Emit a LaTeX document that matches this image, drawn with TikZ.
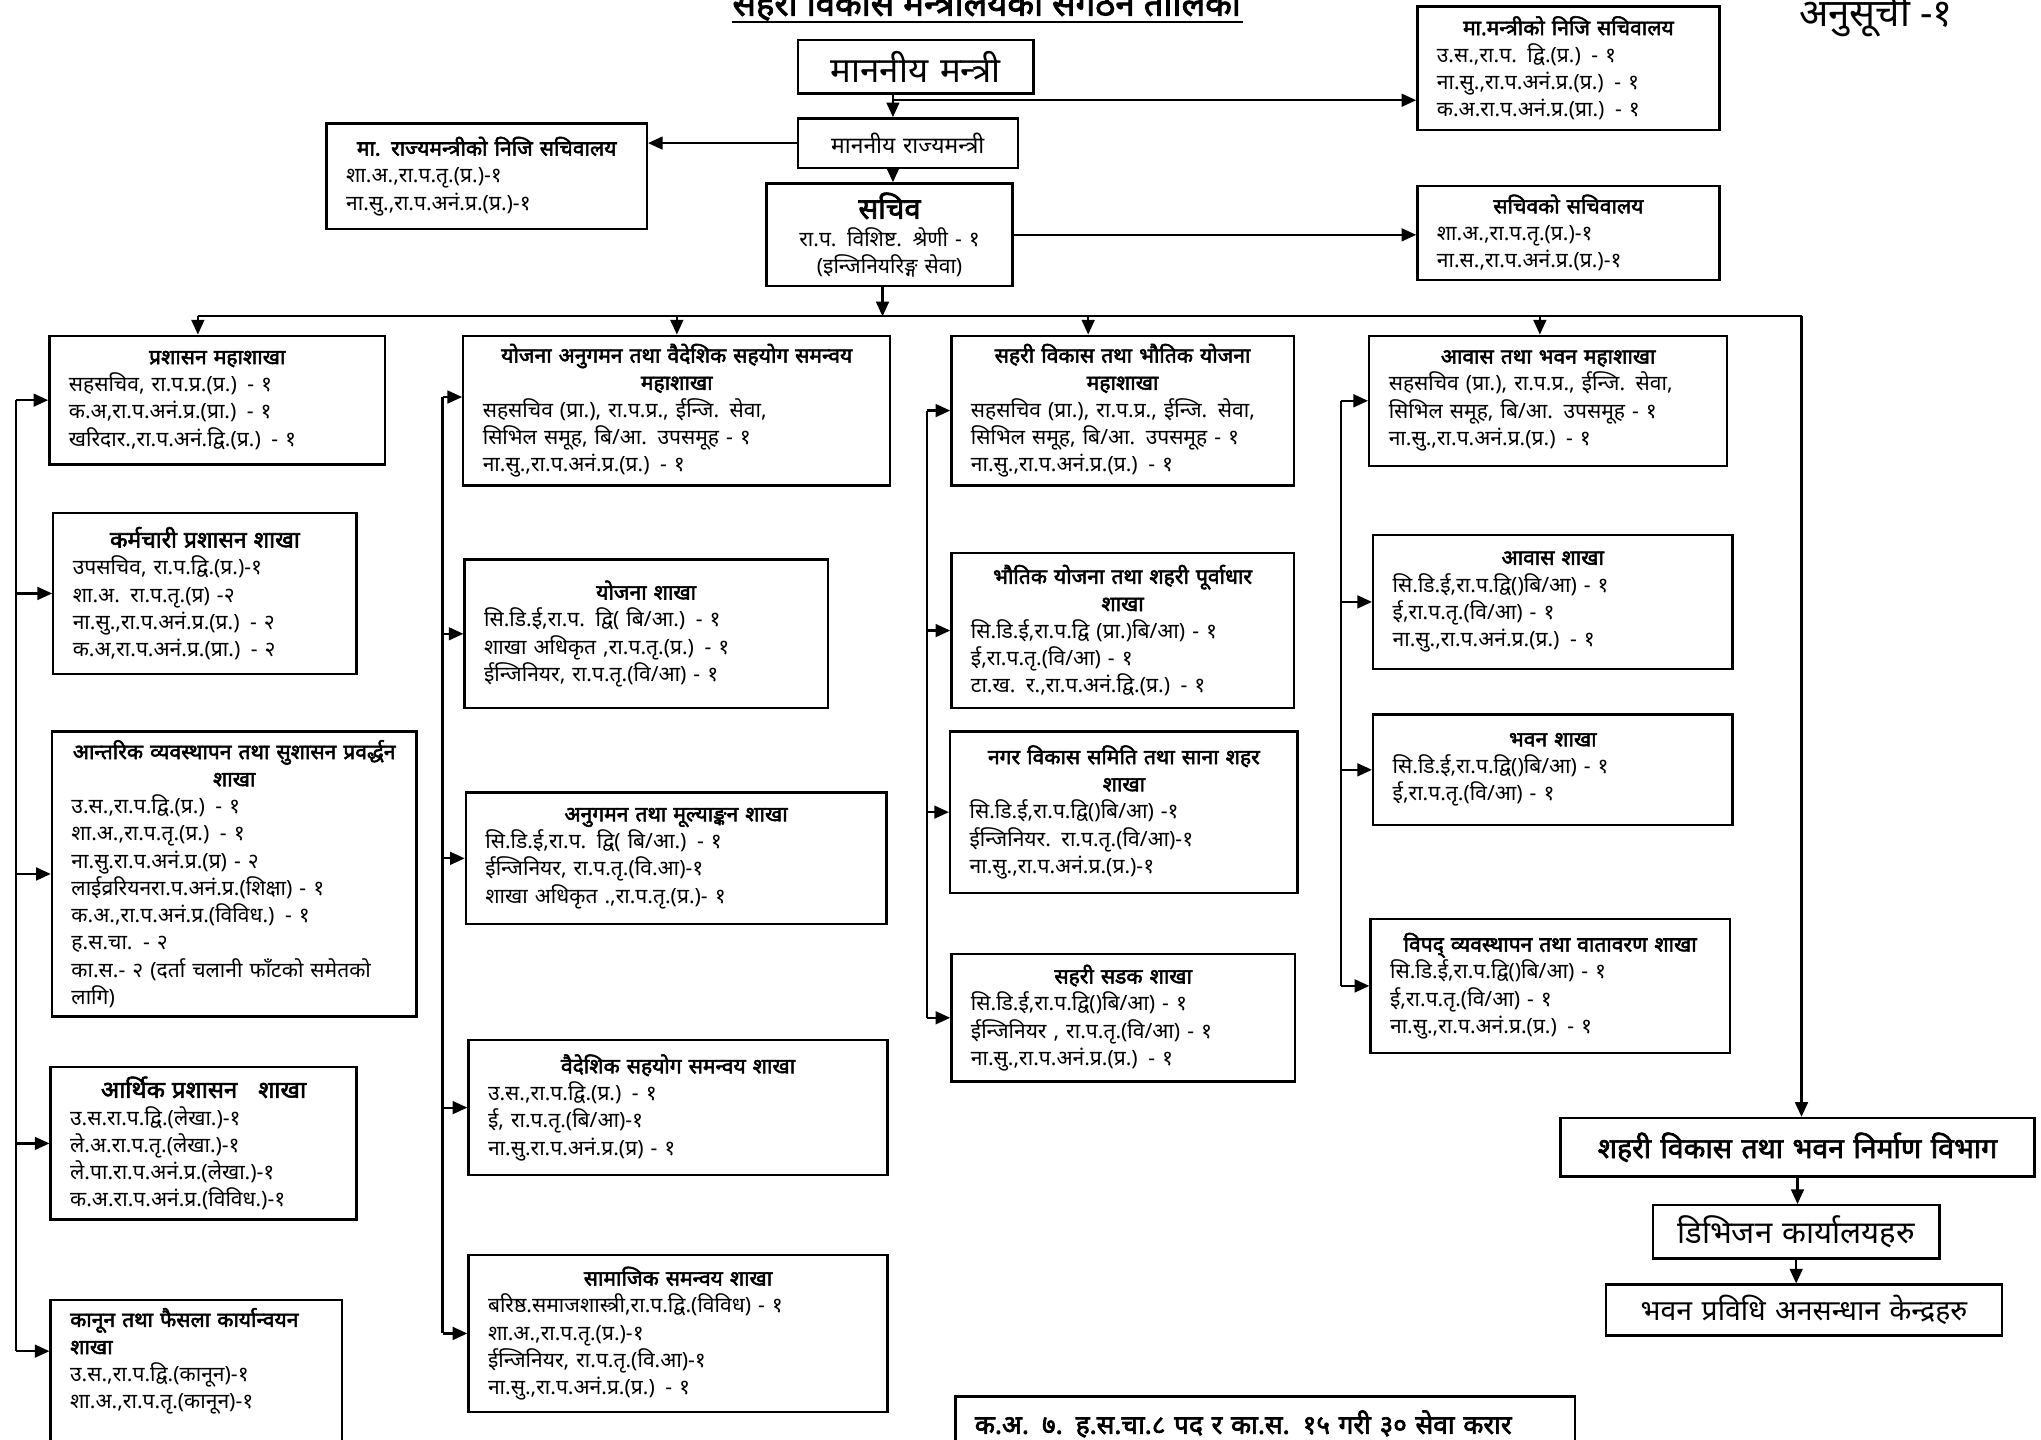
\documentclass[tikz,border=0pt]{standalone}
\usepackage{fontspec}
\setmainfont[Script=Devanagari, BoldFont={Noto Sans}, BoldFeatures={FakeBold=2.5}]{Noto Sans}
\usetikzlibrary{arrows.meta}

\tikzset{
  unit/.style={draw, line width=1.3pt, anchor=north west, inner xsep=0.375cm, inner ysep=0.15cm,
    align=left, font=\fontsize{11.5}{14.9}\selectfont},
  link/.style={line width=1.2pt},
  feed/.style={line width=1.2pt, -{Triangle[length=8pt,width=7pt]}},
}
% box: [style]{name}{x}{y}{width}{height}{text}
\newcommand{\orgbox}[7][]{%
  \pgfmathsetmacro{\boxw}{#5*0.025}%
  \pgfmathsetmacro{\textw}{(#5-30)*0.025}%
  \pgfmathsetmacro{\boxh}{#6*0.025}%
  \node[unit, minimum width=\boxw cm, minimum height=\boxh cm, text width=\textw cm, #1] (#2) at (#3,#4) {#7};%
}
\newcommand{\hd}[1]{{\centering\bfseries #1\par}}

\begin{document}
\begin{tikzpicture}[x=0.025cm, y=-0.025cm]
\useasboundingbox (0,0) rectangle (1568,1106);

% heading
\node[font=\fontsize{19}{22}\selectfont\bfseries, anchor=base] (title) at (758,12) {सहरी विकास मन्त्रालयको संगठन तालिका};
\draw[line width=1pt] (562,17) -- (955,17);
\node[font=\fontsize{21}{24}\selectfont, anchor=base] (annex) at (1441,20) {अनुसूची -१};

% top level
\orgbox[align=center, font=\fontsize{19}{22}\selectfont]{min}{612}{30}{181}{41}{माननीय मन्त्री}
\orgbox[align=center, font=\fontsize{12.5}{15}\selectfont]{smin}{612}{90}{169}{38}{माननीय राज्यमन्त्री}
\orgbox{msec}{1088}{4}{232}{95}{\hd{मा.मन्त्रीको निजि सचिवालय}
उ.स.,रा.प. द्वि.(प्र.) - १\\
ना.सु.,रा.प.अनं.प्र.(प्र.) - १\\
क.अ.रा.प.अनं.प्र.(प्रा.) - १}
\orgbox{ssec}{250}{94}{246}{81}{\hd{मा. राज्यमन्त्रीको निजि सचिवालय}
शा.अ.,रा.प.तृ.(प्र.)-१\\
ना.सु.,रा.प.अनं.प्र.(प्र.)-१}
\orgbox[align=center]{secy}{588}{140}{189}{79}{{\bfseries\fontsize{16}{19}\selectfont सचिव\par}
रा.प. विशिष्ट. श्रेणी - १\\
(इन्जिनियरिङ्ग सेवा)}
\orgbox{secsec}{1088}{142}{232}{72}{\hd{सचिवको सचिवालय}
शा.अ.,रा.प.तृ.(प्र.)-१\\
ना.स.,रा.प.अनं.प्र.(प्र.)-१}

% column 1
\orgbox{adm}{37}{257}{258}{99}{\hd{प्रशासन महाशाखा}
सहसचिव, रा.प.प्र.(प्र.) - १\\
क.अ,रा.प.अनं.प्र.(प्रा.) - १\\
खरिदार.,रा.प.अनं.द्वि.(प्र.) - १}
\orgbox{staff}{40}{393}{233}{124}{\hd{\fontsize{12.5}{15}\selectfont कर्मचारी प्रशासन शाखा}
उपसचिव, रा.प.द्वि.(प्र.)-१\\
शा.अ. रा.प.तृ.(प्र) -२\\
ना.सु.,रा.प.अनं.प्र.(प्र.) - २\\
क.अ,रा.प.अनं.प्र.(प्रा.) - २}
\orgbox{gov}{39}{561}{280}{219}{\hd{आन्तरिक व्यवस्थापन तथा सुशासन प्रवर्द्धन\\ शाखा}
उ.स.,रा.प.द्वि.(प्र.) - १\\
शा.अ.,रा.प.तृ.(प्र.) - १\\
ना.सु.रा.प.अनं.प्र.(प्र) - २\\
लाईव्ररियनरा.प.अनं.प्र.(शिक्षा) - १\\
क.अ.,रा.प.अनं.प्र.(विविध.) - १\\
ह.स.चा. - २\\
का.स.- २ (दर्ता चलानी फाँटको समेतको\\
लागि)}
\orgbox{fin}{38}{819}{235}{117}{\hd{\fontsize{13}{15}\selectfont आर्थिक प्रशासन \ \ शाखा}
उ.स.रा.प.द्वि.(लेखा.)-१\\
ले.अ.रा.प.तृ.(लेखा.)-१\\
ले.पा.रा.प.अनं.प्र.(लेखा.)-१\\
क.अ.रा.प.अनं.प्र.(विविध.)-१}
\orgbox{law}{38}{998}{224}{0}{{\bfseries कानून तथा फैसला कार्यान्वयन\\
शाखा}\\
उ.स.,रा.प.द्वि.(कानून)-१\\
शा.अ.,रा.प.तृ.(कानून)-१\\
\mbox{}\\ \mbox{}\\ \mbox{}}

% column 2
\orgbox{plan}{355}{257}{328}{115}{\hd{योजना अनुगमन तथा वैदेशिक सहयोग समन्वय\\ महाशाखा}
सहसचिव (प्रा.), रा.प.प्र., ईन्जि. सेवा,\\
सिभिल समूह, बि/आ. उपसमूह - १\\
ना.सु.,रा.प.अनं.प्र.(प्र.) - १}
\orgbox{planb}{356}{429}{279}{114}{\hd{योजना शाखा}
सि.डि.ई,रा.प. द्वि( बि/आ.) - १\\
शाखा अधिकृत ,रा.प.तृ.(प्र.) - १\\
ईन्जिनियर, रा.प.तृ.(वि/आ) - १}
\orgbox{mon}{357}{608}{323}{101}{\hd{अनुगमन तथा मूल्याङ्कन शाखा}
सि.डि.ई,रा.प. द्वि( बि/आ.) - १\\
ईन्जिनियर, रा.प.तृ.(वि.आ)-१\\
शाखा अधिकृत .,रा.प.तृ.(प्र.)- १}
\orgbox{fore}{359}{798}{322}{104}{\hd{वैदेशिक सहयोग समन्वय शाखा}
उ.स.,रा.प.द्वि.(प्र.) - १\\
ई, रा.प.तृ.(बि/आ)-१\\
ना.सु.रा.प.अनं.प्र.(प्र) - १}
\orgbox{soc}{359}{963}{322}{121}{\hd{सामाजिक समन्वय शाखा}
बरिष्ठ.समाजशास्त्री,रा.प.द्वि.(विविध) - १\\
शा.अ.,रा.प.तृ.(प्र.)-१\\
ईन्जिनियर, रा.प.तृ.(वि.आ)-१\\
ना.सु.,रा.प.अनं.प्र.(प्र.) - १}

% column 3
\orgbox{urb}{730}{257}{263}{115}{\hd{सहरी विकास तथा भौतिक योजना\\ महाशाखा}
सहसचिव (प्रा.), रा.प.प्र., ईन्जि. सेवा,\\
सिभिल समूह, बि/आ. उपसमूह - १\\
ना.सु.,रा.प.अनं.प्र.(प्र.) - १}
\orgbox{phys}{730}{424}{263}{119}{\hd{भौतिक योजना तथा शहरी पूर्वाधार\\ शाखा}
सि.डि.ई,रा.प.द्वि (प्रा.)बि/आ) - १\\
ई,रा.प.तृ.(वि/आ) - १\\
टा.ख. र.,रा.प.अनं.द्वि.(प्र.) - १}
\orgbox{town}{729}{561}{267}{124}{\hd{नगर विकास समिति तथा साना शहर\\ शाखा}
सि.डि.ई,रा.प.द्वि()बि/आ) -१\\
ईन्जिनियर. रा.प.तृ.(वि/आ)-१\\
ना.सु.,रा.प.अनं.प्र.(प्र.)-१}
\orgbox{road}{730}{732}{264}{98}{\hd{सहरी सडक शाखा}
सि.डि.ई,रा.प.द्वि()बि/आ) - १\\
ईन्जिनियर , रा.प.तृ.(वि/आ) - १\\
ना.सु.,रा.प.अनं.प्र.(प्र.) - १}

% column 4
\orgbox{hous}{1051}{257}{275}{100}{\hd{आवास तथा भवन महाशाखा}
सहसचिव (प्रा.), रा.प.प्र., ईन्जि. सेवा,\\
सिभिल समूह, बि/आ. उपसमूह - १\\
ना.सु.,रा.प.अनं.प्र.(प्र.) - १}
\orgbox{housb}{1054}{410}{276}{103}{\hd{आवास शाखा}
सि.डि.ई,रा.प.द्वि()बि/आ) - १\\
ई,रा.प.तृ.(वि/आ) - १\\
ना.सु.,रा.प.अनं.प्र.(प्र.) - १}
\orgbox{bldg}{1054}{548}{276}{85}{\hd{भवन शाखा}
सि.डि.ई,रा.प.द्वि()बि/आ) - १\\
ई,रा.प.तृ.(वि/आ) - १}
\orgbox{disas}{1052}{705}{276}{103}{\hd{विपद् व्यवस्थापन तथा वातावरण शाखा}
सि.डि.ई,रा.प.द्वि()बि/आ) - १\\
ई,रा.प.तृ.(वि/आ) - १\\
ना.सु.,रा.प.अनं.प्र.(प्र.) - १}

% department
\orgbox[align=center, font=\fontsize{15.5}{18}\selectfont\bfseries]{dept}{1198}{858}{364}{45}{शहरी विकास तथा भवन निर्माण विभाग}
\orgbox[align=center, font=\fontsize{17}{20}\selectfont]{div}{1269}{925}{220}{41}{डिभिजन कार्यालयहरु}
\orgbox[align=center, font=\fontsize{15.5}{18}\selectfont]{res}{1233}{986}{304}{39}{भवन प्रविधि अनसन्धान केन्द्रहरु}
\orgbox[font=\fontsize{14.3}{17}\selectfont\bfseries, inner xsep=0.325cm]{note}{733}{1072}{476}{42}{क.अ. ७. ह.स.चा.८ पद र का.स. १५ गरी ३० सेवा करार}

% top connectors
\coordinate (spine) at (686,77);
\draw[feed] (spine |- min.south) -- (spine |- smin.north);
\draw[feed] (spine) -- (spine -| msec.west);
\draw[feed] (smin.west) -- (smin.west -| ssec.east);
\draw[feed] (spine |- smin.south) -- (spine |- secy.north);
\draw[feed] (secy.east) -- (secy.east -| secsec.west);
\coordinate (bus) at (678,243);
\coordinate (busW) at (152,243);
\coordinate (busE) at (1384,243);
\draw[feed] (bus |- secy.south) -- (bus);
\draw[link] (busW) -- (busE);
\draw[feed] (busE) -- (busE |- dept.north);
\draw[feed] (busW) -- (busW |- adm.north);
\draw[feed] (520,243) -- (520,243 |- plan.north);
\draw[feed] (836,243) -- (836,243 |- urb.north);
\draw[feed] (1183,243) -- (1183,243 |- hous.north);
\draw[feed] (dept.south) -- (dept.south |- div.north);
\draw[feed] (div.south) -- (div.south |- res.north);

% column feeders
\coordinate (c1) at (12,0);
\coordinate (c2) at (340,0);
\coordinate (c3) at (712,0);
\coordinate (c4) at (1030,0);
\coordinate (lawin) at ([yshift=-1cm]law.north west);
\coordinate (planin) at ([yshift=-1.2cm]plan.north west);
\draw[link] (c1 |- adm.west) -- (c1 |- lawin);
\foreach \b in {adm,staff,gov,fin}
  \draw[feed] (c1 |- \b.west) -- (\b.west);
\draw[feed] (c1 |- lawin) -- (lawin);
\draw[link] (c2 |- planin) -- (c2 |- soc.west);
\draw[feed] (c2 |- planin) -- (planin);
\foreach \b in {planb,mon,fore,soc}
  \draw[feed] (c2 |- \b.west) -- (\b.west);
\draw[link] (c3 |- urb.west) -- (c3 |- road.west);
\foreach \b in {urb,phys,town,road}
  \draw[feed] (c3 |- \b.west) -- (\b.west);
\draw[link] (c4 |- hous.west) -- (c4 |- disas.west);
\foreach \b in {hous,housb,bldg,disas}
  \draw[feed] (c4 |- \b.west) -- (\b.west);
\end{tikzpicture}
\end{document}
